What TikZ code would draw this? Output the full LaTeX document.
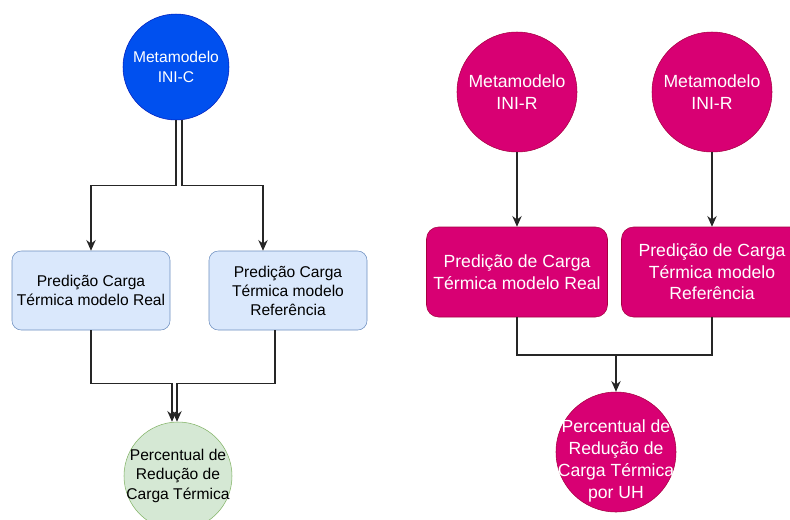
\documentclass[tikz,border=0pt]{standalone}
\usepackage{fontspec}
\setmainfont{Liberation Sans}
\usepackage{tikz}
\usetikzlibrary{shapes.geometric, arrows.meta}

\definecolor{iniblue}{HTML}{0050EF}
\definecolor{iniblueline}{HTML}{001DBC}
\definecolor{inipink}{HTML}{D80073}
\definecolor{inipinkline}{HTML}{A50040}
\definecolor{predblue}{HTML}{DAE8FC}
\definecolor{predblueline}{HTML}{6C8EBF}
\definecolor{resgreen}{HTML}{D5E8D4}
\definecolor{resgreenline}{HTML}{82B366}

\newcommand{\leftfont}{\fontsize{11.7}{15}\selectfont}
\newcommand{\rightfont}{\fontsize{13.2}{16.2}\selectfont}
% text that must not make the circle grow
\newcommand{\nowidth}[1]{\makebox[0pt]{\begin{tabular}{@{}c@{}}#1\end{tabular}}}

\tikzstyle{metablue} = [
    circle,
    minimum size=79.5pt,
    inner sep=0pt,
    fill=iniblue,
    draw=iniblueline,
    text=white,
    align=center,
    font=\leftfont
]
\tikzstyle{metapink} = [
    circle,
    minimum size=90pt,
    inner sep=0pt,
    fill=inipink,
    draw=inipinkline,
    text=white,
    align=center,
    font=\rightfont
]
\tikzstyle{predblue} = [
    rectangle,
    rounded corners=7pt,
    minimum width=118.5pt,
    minimum height=59.25pt,
    inner sep=2pt,
    fill=predblue,
    draw=predblueline,
    align=center,
    font=\fontsize{11.7}{14.2}\selectfont
]
\tikzstyle{predpink} = [
    rectangle,
    rounded corners=9pt,
    minimum width=135.75pt,
    minimum height=67.5pt,
    inner sep=2pt,
    fill=inipink,
    draw=inipinkline,
    text=white,
    align=center,
    font=\rightfont
]
\tikzstyle{resultgreen} = [
    circle,
    minimum size=81pt,
    inner sep=0pt,
    fill=resgreen,
    draw=resgreenline,
    font=\fontsize{11.7}{14.5}\selectfont
]
\tikzstyle{resultpink} = [
    circle,
    minimum size=90pt,
    inner sep=0pt,
    fill=inipink,
    draw=inipinkline,
    text=white,
    font=\fontsize{13.2}{16.4}\selectfont
]
\tikzstyle{line} = [line width=1.1pt, black!85]
\tikzstyle{arrow} = [line, -{Stealth[length=8pt,width=7pt]}]

\begin{document}
\begin{tikzpicture}[x=0.75pt, y=-0.75pt]

\useasboundingbox (0,0) rectangle (790,519);

% INI-C
\node (inic) [metablue] at (176,67) {Metamodelo\\INI-C};

\node (lreal) [predblue] at (91,290.5)
{Predição Carga\\Térmica modelo Real};

\node (lref) [predblue] at (288,290.5)
{Predição Carga\\Térmica modelo\\Referência};

\node (lres) [resultgreen] at (178,476)
{\nowidth{Percentual de\\Redução de\\Carga Térmica}};

\draw [arrow] (inic.south) -- ++(0,65) -| (lreal.north);
\draw [arrow] ([xshift=4.5pt]inic.south) -- ++(0,65) -| ([xshift=-18.75pt]lref.north);

\draw [arrow] (lreal.south) -- ++(0,53) -| ([xshift=-4.5pt]lres.north);
\draw [arrow] ([xshift=-9.75pt]lref.south) -- ++(0,53) -| ([xshift=-0.75pt]lres.north);

% INI-R
\node (inir1) [metapink] at (517,92) {Metamodelo\\INI-R};

\node (inir2) [metapink] at (712,92) {Metamodelo\\INI-R};

\node (rreal) [predpink] at (517,272)
{Predição de Carga\\Térmica modelo Real};

\node (rref) [predpink] at (712,272)
{Predição de Carga\\Térmica modelo\\Referência};

\node (rres) [resultpink] at (616,452)
{\raisebox{-10pt}[0pt][0pt]{\nowidth{Percentual de\\Redução de\\Carga Térmica\\por UH}}};

\coordinate (rjoin) at (616,355);

\draw [arrow] (inir1.south) -- (rreal.north);
\draw [arrow] (inir2.south) -- (rref.north);

\draw [line] (rreal.south) |- (rjoin);
\draw [line] (rref.south) |- (rjoin);
\draw [arrow] (rjoin) -- (rres.north);

\end{tikzpicture}
\end{document}
